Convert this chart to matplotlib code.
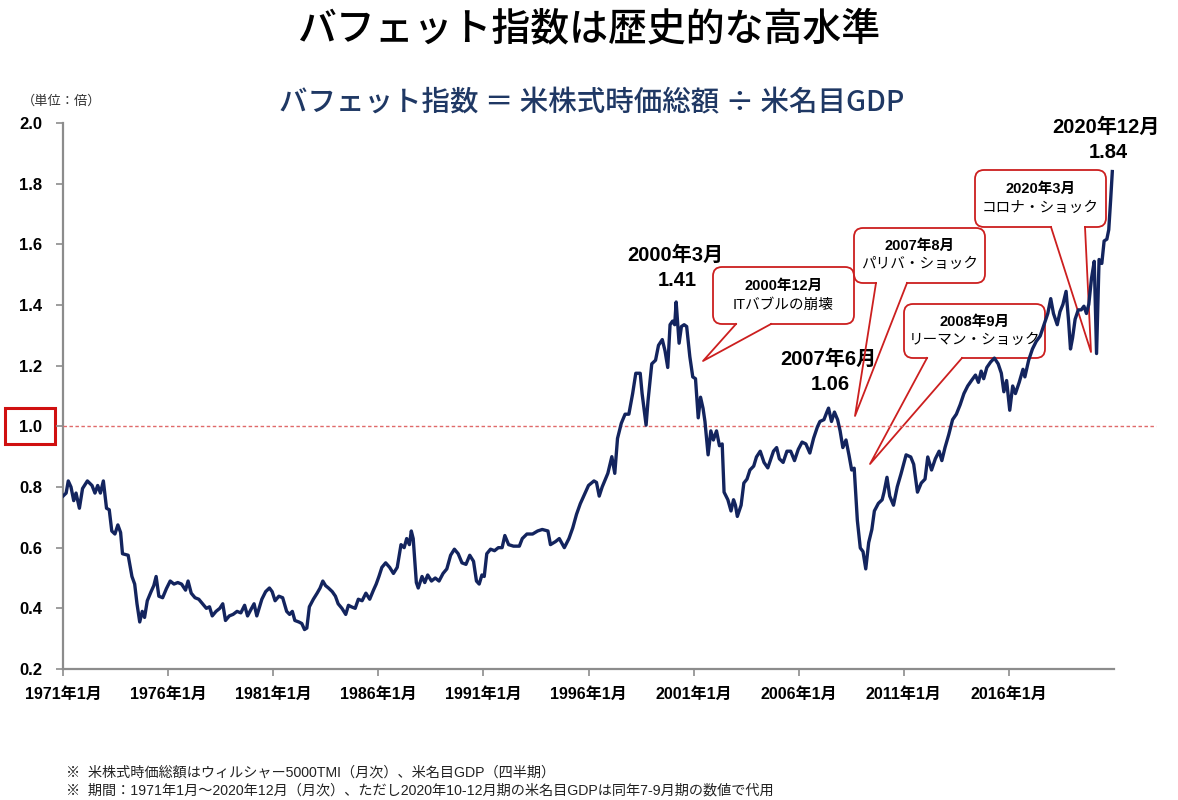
import matplotlib
matplotlib.use('Agg')
import matplotlib.pyplot as plt
from matplotlib.patches import FancyBboxPatch, Rectangle

plt.rcParams['font.family'] = ['Liberation Sans', 'Noto Sans CJK JP', 'DejaVu Sans']

# ---- data (decimal year, Buffett indicator) ----
years = [
    1971.00, 1971.15, 1971.25, 1971.38, 1971.51, 1971.62, 1971.78, 1971.93, 1972.16, 1972.38,
    1972.52, 1972.65, 1972.78, 1972.92, 1973.07, 1973.20, 1973.32, 1973.47, 1973.61, 1973.74,
    1973.83, 1974.10, 1974.28, 1974.41, 1974.52, 1974.65, 1974.77, 1974.88, 1975.01, 1975.19,
    1975.32, 1975.43, 1975.56, 1975.74, 1975.92, 1976.10, 1976.28, 1976.46, 1976.64, 1976.83,
    1976.95, 1977.10, 1977.28, 1977.46, 1977.64, 1977.82, 1977.97, 1978.10, 1978.28, 1978.46,
    1978.60, 1978.73, 1978.91, 1979.09, 1979.28, 1979.46, 1979.64, 1979.78, 1979.97, 1980.09,
    1980.22, 1980.46, 1980.64, 1980.82, 1980.95, 1981.09, 1981.27, 1981.45, 1981.64, 1981.78,
    1981.91, 1982.03, 1982.22, 1982.36, 1982.49, 1982.60, 1982.72, 1982.91, 1983.09, 1983.23,
    1983.36, 1983.49, 1983.63, 1983.81, 1983.96, 1984.09, 1984.27, 1984.45, 1984.58, 1984.72,
    1984.90, 1985.05, 1985.23, 1985.41, 1985.59, 1985.77, 1985.90, 1986.03, 1986.17, 1986.35,
    1986.54, 1986.72, 1986.90, 1987.08, 1987.23, 1987.35, 1987.48, 1987.57, 1987.66, 1987.81,
    1987.90, 1988.08, 1988.21, 1988.35, 1988.53, 1988.71, 1988.89, 1989.08, 1989.26, 1989.44,
    1989.62, 1989.80, 1989.98, 1990.17, 1990.35, 1990.53, 1990.67, 1990.80, 1990.93, 1991.04,
    1991.16, 1991.34, 1991.53, 1991.71, 1991.89, 1992.02, 1992.20, 1992.43, 1992.71, 1992.85,
    1993.07, 1993.34, 1993.58, 1993.80, 1994.07, 1994.19, 1994.43, 1994.61, 1994.85, 1995.07,
    1995.25, 1995.43, 1995.61, 1996.00, 1996.26,
    1996.38, 1996.51, 1996.65, 1996.92, 1997.11, 1997.25, 1997.38, 1997.56, 1997.74, 1997.92,
    1998.10, 1998.25, 1998.46, 1998.55, 1998.74, 1998.83, 1999.01, 1999.19, 1999.33, 1999.51,
    1999.64, 1999.77, 1999.88, 2000.00, 2000.10, 2000.17, 2000.31, 2000.42, 2000.55, 2000.67,
    2000.82, 2000.96, 2001.09, 2001.22, 2001.33, 2001.45, 2001.54, 2001.69, 2001.82, 2001.94,
    2002.09, 2002.23, 2002.36, 2002.45, 2002.63, 2002.78, 2002.90, 2002.99, 2003.08, 2003.26,
    2003.39, 2003.54, 2003.68, 2003.86, 2003.99, 2004.17, 2004.35, 2004.53, 2004.62, 2004.80,
    2004.95, 2005.08, 2005.26, 2005.44, 2005.62, 2005.80, 2005.98, 2006.16, 2006.34, 2006.53,
    2006.71, 2006.89, 2007.01, 2007.20, 2007.34, 2007.42, 2007.56, 2007.70, 2007.85, 2007.97,
    2008.10, 2008.25, 2008.39, 2008.52, 2008.64, 2008.79, 2008.93, 2009.06, 2009.19, 2009.33,
    2009.48, 2009.60, 2009.79, 2009.97, 2010.06, 2010.20, 2010.33, 2010.51, 2010.69, 2010.87,
    2011.11, 2011.33, 2011.47, 2011.65, 2011.83, 2012.01, 2012.14, 2012.32, 2012.50, 2012.68,
    2012.81, 2012.96, 2013.14, 2013.32, 2013.50, 2013.68, 2013.86, 2014.04, 2014.22, 2014.41,
    2014.55, 2014.68, 2014.80, 2014.95, 2015.13, 2015.31, 2015.49, 2015.64, 2015.76, 2015.89,
    2016.04, 2016.18, 2016.31, 2016.49, 2016.67, 2016.76, 2016.94, 2017.12, 2017.30, 2017.49,
    2017.67, 2017.85, 2017.99, 2018.12, 2018.30, 2018.43, 2018.57, 2018.72, 2018.84, 2018.93,
    2019.03, 2019.15, 2019.30, 2019.44, 2019.57, 2019.69, 2019.80, 2019.93, 2020.06, 2020.17,
    2020.29, 2020.42, 2020.53, 2020.66, 2020.75, 2020.84, 2020.92,
]
values = [
    0.77, 0.78, 0.82, 0.80, 0.755, 0.78, 0.73, 0.795, 0.82, 0.805,
    0.78, 0.805, 0.78, 0.82, 0.73, 0.725, 0.655, 0.645, 0.675, 0.65,
    0.58, 0.575, 0.505, 0.48, 0.415, 0.355, 0.39, 0.37, 0.425, 0.455,
    0.475, 0.505, 0.44, 0.435, 0.465, 0.49, 0.48, 0.485, 0.48, 0.46,
    0.49, 0.45, 0.435, 0.43, 0.415, 0.40, 0.405, 0.375, 0.39, 0.40,
    0.415, 0.36, 0.375, 0.38, 0.39, 0.385, 0.41, 0.375, 0.40, 0.415,
    0.375, 0.43, 0.455, 0.467, 0.455, 0.425, 0.44, 0.435, 0.39, 0.38,
    0.39, 0.36, 0.355, 0.35, 0.33, 0.335, 0.405, 0.43, 0.45, 0.467,
    0.49, 0.475, 0.467, 0.455, 0.44, 0.415, 0.40, 0.38, 0.41, 0.405,
    0.40, 0.43, 0.425, 0.45, 0.43, 0.46, 0.48, 0.505, 0.535, 0.55,
    0.535, 0.515, 0.535, 0.61, 0.60, 0.63, 0.61, 0.655, 0.63, 0.485,
    0.467, 0.505, 0.485, 0.51, 0.49, 0.50, 0.49, 0.515, 0.53, 0.575,
    0.595, 0.58, 0.55, 0.545, 0.575, 0.555, 0.49, 0.48, 0.51, 0.505,
    0.58, 0.595, 0.59, 0.60, 0.60, 0.64, 0.61, 0.605, 0.605, 0.63,
    0.645, 0.645, 0.655, 0.66, 0.655, 0.61, 0.62, 0.63, 0.60, 0.63,
    0.665, 0.71, 0.745, 0.805, 0.82,
    0.815, 0.77, 0.80, 0.845, 0.90, 0.845, 0.96, 1.01, 1.04, 1.04,
    1.108, 1.175, 1.175, 1.108, 1.004, 1.083, 1.206, 1.218, 1.267, 1.286,
    1.249, 1.194, 1.335, 1.347, 1.335, 1.41, 1.274, 1.329, 1.335, 1.329,
    1.23, 1.163, 1.157, 1.028, 1.096, 1.059, 1.016, 0.906, 0.985, 0.955,
    0.985, 0.936, 0.942, 0.783, 0.758, 0.721, 0.758, 0.74, 0.703, 0.74,
    0.813, 0.826, 0.856, 0.869, 0.899, 0.918, 0.881, 0.863, 0.881, 0.918,
    0.93, 0.893, 0.881, 0.918, 0.918, 0.887, 0.924, 0.948, 0.942, 0.912,
    0.961, 0.998, 1.016, 1.022, 1.047, 1.06, 1.016, 1.047, 1.022, 0.985,
    0.93, 0.955, 0.906, 0.856, 0.862, 0.69, 0.599, 0.587, 0.53, 0.617,
    0.66, 0.721, 0.746, 0.758, 0.783, 0.832, 0.77, 0.74, 0.801, 0.844,
    0.906, 0.899, 0.875, 0.783, 0.813, 0.826, 0.899, 0.856, 0.893, 0.918,
    0.887, 0.93, 0.973, 1.022, 1.04, 1.071, 1.108, 1.133, 1.151, 1.169,
    1.145, 1.182, 1.157, 1.194, 1.212, 1.225, 1.206, 1.175, 1.114, 1.151,
    1.053, 1.133, 1.108, 1.145, 1.188, 1.163, 1.218, 1.255, 1.28, 1.298,
    1.335, 1.372, 1.421, 1.372, 1.335, 1.378, 1.402, 1.445, 1.347, 1.255,
    1.292, 1.353, 1.384, 1.384, 1.396, 1.372, 1.402, 1.488, 1.544, 1.24,
    1.55, 1.537, 1.611, 1.617, 1.648, 1.746, 1.84,
]

tick_years = [1971, 1976, 1981, 1986, 1991, 1996, 2001, 2006, 2011, 2016]
tick_labels = [f"{y}年1月" for y in tick_years]
ytick_values = [0.2, 0.4, 0.6, 0.8, 1.0, 1.2, 1.4, 1.6, 1.8, 2.0]

title = "バフェット指数は歴史的な高水準"
subtitle = "バフェット指数 ＝ 米株式時価総額 ÷ 米名目GDP"
unit_label = "（単位：倍）"
peak_labels = [("2000年3月", "1.41"), ("2007年6月", "1.06"), ("2020年12月", "1.84")]
callout_texts = [("2000年12月", "ITバブルの崩壊"), ("2007年8月", "パリバ・ショック"),
                 ("2008年9月", "リーマン・ショック"), ("2020年3月", "コロナ・ショック")]
notes = ["※  米株式時価総額はウィルシャー5000TMI（月次）、米名目GDP（四半期）",
         "※  期間：1971年1月～2020年12月（月次）、ただし2020年10-12月期の米名目GDPは同年7-9月期の数値で代用"]

NAVY = '#13245E'
RED = '#CC1F1F'
SUB = '#1F3864'
GRAY = '#8C8C8C'

W, H = 1178, 800
fig = plt.figure(figsize=(W / 100, H / 100), dpi=100)

# overlay (pixel coordinates) behind the chart
ov = fig.add_axes([0, 0, 1, 1], zorder=0)
ov.set_xlim(0, W)
ov.set_ylim(H, 0)
ov.axis('off')

ax = fig.add_axes([63 / W, 1 - 669 / H, (1114 - 63) / W, (669 - 123) / H], zorder=1)
ax.patch.set_alpha(0)
ax.plot(years, values, color=NAVY, lw=2.4, solid_joinstyle='round', zorder=5)
ax.axhline(1.0, xmin=0, xmax=1.04, color='#E06A6A', lw=1.0, ls=(0, (2.5, 1.8)),
           clip_on=False, zorder=3)
ax.set_xlim(1971, 2021)
ax.set_ylim(0.2, 2.0)
ax.set_xticks(tick_years)
ax.set_xticklabels(tick_labels)
ax.set_yticks(ytick_values)
ax.set_yticklabels([f"{v:.1f}" for v in ytick_values])
for s in ['top', 'right']:
    ax.spines[s].set_visible(False)
for s in ['left', 'bottom']:
    ax.spines[s].set_color(GRAY)
    ax.spines[s].set_linewidth(1.6)
ax.tick_params(axis='both', color=GRAY, width=1.2, length=5, direction='out')
ax.tick_params(axis='x', pad=8)
ax.tick_params(axis='y', pad=10)
for lab in ax.get_xticklabels():
    lab.set_fontsize(11.5)
    lab.set_fontweight('bold')
for lab in ax.get_yticklabels():
    lab.set_fontsize(12)
    lab.set_fontweight('bold')

# titles
ov.text(590, 29, title, ha='center', va='center', fontsize=28, color='black',
        family=['Noto Sans CJK JP'], fontweight='medium')
ov.text(592, 103, subtitle, ha='center', va='center', fontsize=20.5, color=SUB,
        family=['Noto Sans CJK JP', 'Liberation Sans'], fontweight='medium')
ov.text(62, 101, unit_label, ha='center', va='center', fontsize=9.5, color='#333333')

# red box around 1.0
ov.add_patch(Rectangle((5, 408), 50, 36, fill=False, ec='#D01010', lw=2.2))

# peak labels
peak_pos = [(675, 255, 281), (828, 359, 385), (1106, 127, 153)]
for (t1, t2), (px, py1, py2) in zip(peak_labels, peak_pos):
    ov.text(px, py1, t1, ha='center', va='center', fontsize=14.5, fontweight='bold')
    ov.text(px + 2, py2, t2, ha='center', va='center', fontsize=14.5, fontweight='bold')

# callouts: box (x0, y0, x1, y1), wedge base (left, right), tip
callouts = [
    ((713, 267, 854, 324), (736, 771), (703, 361)),
    ((854, 228, 985, 283), (876, 907), (855, 416)),
    ((904, 304, 1045, 358), (927, 962), (870, 464)),
    ((975, 170, 1106, 227), (1051, 1085), (1091, 352)),
]
for (t1, t2), ((x0, y0, x1, y1), (bl, br), (tx, ty)) in zip(callout_texts, callouts):
    ov.add_patch(FancyBboxPatch((x0, y0), x1 - x0, y1 - y0,
                                boxstyle='round,pad=0,rounding_size=9',
                                fc='white', ec=RED, lw=1.3, zorder=2))
    ov.plot([bl + 1, br - 1], [y1, y1], color='white', lw=2.6,
            solid_capstyle='butt', zorder=3)
    ov.plot([bl, tx, br], [y1, ty, y1], color=RED, lw=1.3, zorder=3)
    cx = (x0 + x1) / 2
    h = y1 - y0
    ov.text(cx, y0 + h * 0.33, t1, ha='center', va='center', fontsize=10.5,
            fontweight='bold', zorder=4)
    ov.text(cx, y0 + h * 0.66, t2, ha='center', va='center', fontsize=10.5, zorder=4)

# notes
ov.text(66, 773, notes[0], ha='left', va='center', fontsize=10.2, color='#222222')
ov.text(66, 790, notes[1], ha='left', va='center', fontsize=10.2, color='#222222')

fig.savefig('out.png', dpi=100, facecolor='white')
